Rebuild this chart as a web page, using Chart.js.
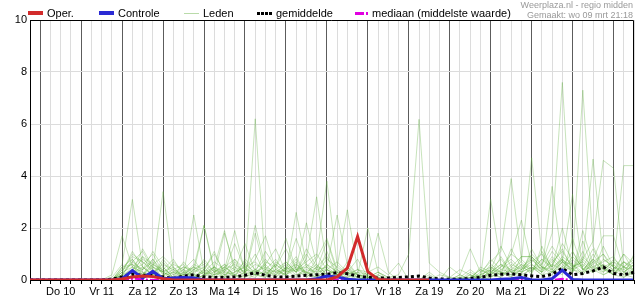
<!DOCTYPE html>
<html lang="nl">
<head>
<meta charset="utf-8">
<title>Neerslag pluim - regio midden</title>
<script src="https://cdn.jsdelivr.net/npm/chart.js@4.4.1/dist/chart.umd.min.js"></script>
<style>
    body { margin: 0; background: #fff; font-family: "Liberation Sans", Arial, sans-serif; }
    #wrap { position: relative; width: 635px; height: 300px; }
    #wrap canvas { position: absolute; left: 0; top: 0; }
    .leg { position: absolute; top: 6px; font-size: 11px; line-height: 14px; color: #000; white-space: nowrap; }
    .leg i { display: inline-block; width: 15px; vertical-align: middle; margin-right: 4px; margin-top: -2px; }
    .credit { position: absolute; right: 2px; top: 0; font-size: 9px; line-height: 10px; color: #999; text-align: right; }
</style>
</head>
<body>
<div id="wrap">
    <canvas id="pluim" width="635" height="300"></canvas>
    <div class="leg" style="left:28px"><i style="height:4px;background:#d22b2b"></i>Oper.</div>
    <div class="leg" style="left:99px"><i style="height:4px;background:#2a2ad4"></i>Controle</div>
    <div class="leg" style="left:184px"><i style="height:1px;background:#b9dba9"></i>Leden</div>
    <div class="leg" style="left:257px"><i style="height:3px;background:repeating-linear-gradient(to right,#000 0 3px,transparent 3px 4px)"></i>gemiddelde</div>
    <div class="leg" style="left:355px"><i style="height:3px;width:13px;background:linear-gradient(to right,#e000e0 0 9px,transparent 9px 11px,#e000e0 11px 13px)"></i>mediaan (middelste waarde)</div>
    <div class="credit">Weerplaza.nl - regio midden<br>Gemaakt: wo 09 mrt 21:18</div>
</div>
<script>
// dagen van de run (start wo 09 18u, elke 6 uur een waarde)
const dagen = ['Wo 09', 'Do 10', 'Vr 11', 'Za 12', 'Zo 13', 'Ma 14', 'Di 15', 'Wo 16',
               'Do 17', 'Vr 18', 'Za 19', 'Zo 20', 'Ma 21', 'Di 22', 'Wo 23', 'Do 24'];
const startUur = 18;
const aantalStappen = 60;
const yTicks = [0, 2, 4, 6, 8, 10];

// tijdstempels (categorieën)
const tijden = [];
for (let i = 0; i < aantalStappen; i++) {
    const h = startUur + i * 6;
    tijden.push(dagen[Math.floor(h / 24)] + ' ' + (h % 24) + 'u');
}
const uurVan = i => (startUur + i * 6) % 24;

const oper = [0,0,0,0,0,0,0,0,0, 0.04,0.12,0.15,0.13, 0.05,0,0,0, 0,0,0,0, 0,0,0,0, 0,0,0,0,
    0,0.12,0.46,1.67, 0.32,0.02,0,0, 0,0,0,null, null,null,null,null, null,null,null,null,
    null,null,null,null, null,null,null,null, null,null,null];

const controle = [0,0,0,0,0,0,0,0,0, 0.05,0.36,0.08,0.33, 0.05,0.08,0.1,0.08, 0,0,0,0, 0,0,0,0,
    0,0,0,0.05, 0.15,0.12,0.03,0, 0,0,0,0, 0,0,0,0, 0,0,0,0, 0,0.03,0.05,0.1,
    0,0,0.05,0.38, 0.02,0,0,0, 0,0,0];

const gemiddelde = [0,0,0,0,0,0,0,0,0.03, 0.12,0.22,0.18,0.2, 0.12,0.06,0.15,0.2, 0.12,0.1,0.1,0.12,
    0.18,0.28,0.18,0.12, 0.12,0.15,0.18,0.2, 0.22,0.28,0.24,0.15, 0.1,0.08,0.08,0.1, 0.12,0.15,0.08,0.04,
    0.03,0.03,0.06,0.1, 0.18,0.22,0.23,0.2, 0.16,0.13,0.22,0.45, 0.2,0.25,0.35,0.5, 0.25,0.2,0.3];

const mediaan = [0,0,0,0,0,0,0,0,0, 0,0.05,0.03,0, 0,0,0,0, 0,0,0,0, 0,0,0,0, 0,0,0,0,
    0,0,0,0, 0,0,0,0, 0,0,0,0, 0,0,0,0, 0,0,0,0, 0,0,0,0.05, 0,0,0,0, 0,0,0];

// ensemble leden
const lid01 = [0,0,0,0,0,0,0,0,0.1, 0.6,3.1,0.5,0.2, 0.1,0,0.3,0.1, 0.4,1.1,0.2,0, 0.2,1.8,0.3,0.1, 0.4,0.9,0.2,0.1, 0.6,0.3,0,0, 0.1,0,0,0, 0,0,0,0, 0,0,0.2,0, 0.3,0.6,0.1,0.4, 0.9,0.3,0.6,1.2, 0.4,0.2,0.8,0.5, 0.2,0.7,0.3];
const lid02 = [0,0,0,0,0,0,0,0,0, 0.2,0.7,1.1,0.4, 3.4,0.4,0.1,0, 0.2,0.1,0.5,0.2, 0,0.2,0.6,1.2, 0.3,2.6,0.6,0.2, 0.1,0.3,0,0, 0,0,0,0, 0,0,0,0, 0,0,0.1,0.4, 0.2,0.9,0.3,0.1, 0.5,0.2,0.3,0.8, 0.3,1.9,0.6,0.2, 0.4,0.1,0.3];
const lid03 = [0,0,0,0,0,0,0,0,0, 0.1,0.4,0.6,1.0, 0.3,0.1,0.4,0.8, 0.2,0.3,0.6,0.1, 0.3,6.2,0.4,0.2, 0.7,0.3,1.0,0.4, 0.2,0.1,0.3,0, 0,0,0,0, 0,0,0,0, 0,0.1,0,0, 0.4,0.2,1.2,0.5, 0.3,0.8,0.4,0.2, 1.6,0.4,0.7,0.4, 0.3,1.0,0.6];
const lid04 = [0,0,0,0,0,0,0,0,0.2, 1.7,0.5,0.2,0.6, 0.3,0.1,0,0.2, 0.1,0.5,0.2,0.3, 0.7,0.2,0.1,0.4, 0.2,0.6,0.3,0.1, 0.4,0.1,0.7,0.2, 0.1,0.3,0.1,0.2, 1.0,6.18,0.65,0.3, 0.1,0,0,0.2, 0.4,0.3,0.1,0.9, 0.9,0.5,0.3,0.7, 0.4,1.1,0.3,0.6, 0.2,0.1,0.4];
const lid05 = [0,0,0,0,0,0,0,0,0, 0.1,0.3,0.5,0.2, 0.1,0,0.2,0.5, 2.1,0.3,0.1,0.2, 0.1,0.4,0.2,0, 0.3,0.5,2.2,0.6, 0.2,0.4,0.1,0, 0.2,0.1,0,0, 0,0,0,0, 0,0,0.3,0.1, 0.2,0.5,0.8,0.4, 1.0,0.6,1.8,7.6, 1.1,0.4,0.8,0.3, 0.6,0.2,0.1];
const lid06 = [0,0,0,0,0,0,0,0,0, 0.3,1.0,0.7,0.4, 0.1,0.3,0.2,0.1, 0.4,0.2,1.8,0.5, 0.1,0.3,0.6,0.2, 0.4,0.1,0.5,0.9, 3.8,0.6,0.2,0.1, 0,0,0,0, 0,0,0,0, 0,0.2,1.2,0.3, 0.5,0.2,0.4,0.7, 0.3,1.1,0.5,1.4, 0.8,7.3,1.3,0.5, 0.2,0.7,0.4];
const lid07 = [0,0,0,0,0,0,0,0,0, 0.5,0.8,0.3,0.1, 0.7,0.2,0.4,0, 0.2,0.5,0.3,0.8, 0.2,0.1,0.4,0.3, 0.6,0.3,0.8,3.2, 0.5,0.2,0.1,0.3, 0.2,1.8,0.3,0, 0,0,0,0, 0,0,0,0.1, 0.6,0.3,1.0,0.7, 4.7,1.0,0.5,0.8, 0.4,0.3,0.6,1.0, 0.5,0.3,0.2];
const lid08 = [0,0,0,0,0,0,0,0,0, 0.2,0.3,0.4,1.1, 0.5,0.1,0.3,0.2, 0,0.2,0.4,1.9, 0.3,0.2,0.7,0.5, 0.1,0.2,0.4,0.3, 0.8,0.5,2.7,0.4, 0.1,0,0,0, 0,0,0.2,0, 0,0.1,0,0.3, 0.7,1.1,3.9,0.8, 0.4,0.6,1.3,0.7, 0.3,0.8,1.5,4.6, 4.3,0.5,0.3];
const lid09 = [0,0,0,0,0,0,0,0,0, 0.4,0.6,0.2,0.8, 0.3,0.5,0.1,0.4, 0.7,0.3,0.5,0.2, 0.4,1.0,0.2,0.6, 0.3,0.8,0.2,0.5, 0.4,0.2,0.3,0.2, 0.1,0.3,0,0, 0,0,0,0, 0,0,0.2,0.1, 3.1,0.6,0.3,0.5, 0.8,0.4,0.7,1.1, 0.5,0.7,4.65,0.8, 0.5,4.4,4.4];
const lid10 = [0,0,0,0,0,0,0,0,0, 0.2,0.4,0.8,0.5, 0.1,0.7,0.3,0.5, 0.3,0.1,0.2,0.4, 1.4,0.3,0.5,0.1, 0.5,0.2,0.3,0.6, 0.2,0.1,0.5,0.2, 2.0,0.3,0.1,0, 0,0,0,0, 0,0.2,0,0, 0.1,0.4,0.7,0.3, 0.5,0.3,3.6,0.7, 3.3,0.4,0.8,1.7, 1.7,0.4,0.7];
const lid11 = [0,0,0,0,0,0,0,0,0, 0.1,0.5,0.3,0.2, 0.4,0.8,0.2,2.5, 0.3,0.5,0.1,0.7, 0.2,0.4,0.8,0.3, 0.2,0.7,0.1,0.4, 0.5,2.5,0.6,0.2, 0.1,0,0,0, 0,0,0,0, 0,0,0,0.1, 0.3,0.1,0.5,0.9, 0.9,0.5,0.2,0.7, 0.4,0.9,0.5,0.3, 0.8,0.5,0.2];
const lid12 = [0,0,0,0,0,0,0,0,0, 0.3,1.1,0.5,0.2, 0.8,0.3,0.1,0.4, 0.2,0.5,1.9,0.3, 0.5,0.2,0.1,0.7, 0.4,0.6,0.2,0.8, 1.6,0.4,0.2,0, 0.1,0,0,0, 0,0,0,0, 0.1,0.4,0.2,0, 0.4,0.8,0.3,0.2, 1.2,0.5,0.4,0.9, 0.6,0.2,0.7,1.0, 0.3,0.5,0.8];
const lid13 = [0,0,0,0,0,0,0,0,0, 0,0.2,0.9,0.6, 0.4,0.2,0.5,0.3, 2.1,0.4,0.2,0.5, 0.3,0.8,1.7,0.4, 0.2,0.5,0.3,0.1, 0.4,0.2,0.1,0.3, 0,0.2,0,0, 0,0,0,0, 0,0,0,0.5, 0.3,0.2,0.6,0.4, 0.7,1.0,0.3,0.5, 1.1,0.4,0.3,0.8, 0.5,0.2,1.0];
const lid14 = [0,0,0,0,0,0,0,0,0, 0.2,0.7,0.4,0.8, 0.2,0.4,0.6,0.1, 0.3,0.2,0.5,0.8, 0.4,0.3,1.1,0.5, 1.2,0.4,0.1,0.5, 0.9,0.2,0.4,0.1, 0,0,0.1,0, 0,0,0.3,0, 0,0,0,0.2, 0.4,1.3,0.5,0.3, 0.8,0.4,1.1,0.6, 0.3,1.5,0.4,0.2, 0.4,0.7,0.5];
const lid15 = [0,0,0,0,0,0,0,0,0, 0.4,0.9,0.7,0.3, 0.5,0.1,0.2,0.6, 0.4,1.0,0.3,0.2, 0.6,0.3,0.2,0.4, 0.7,0.3,1.2,0.5, 0.1,0.5,0.2,0.4, 0.2,0,0,0, 0,0,0,0, 0,0,0.1,0.4, 0.2,0.5,1.0,2.3, 0.6,0.3,0.8,0.4, 0.9,0.5,1.2,0.4, 0.7,0.3,0.6];
const lid16 = [0,0,0,0,0,0,0,0,0, 0.1,0.3,1.2,0.5, 0.3,0.6,0.4,0.2, 0.8,0.3,0.6,0.4, 0.2,2.1,0.5,0.3, 0.4,1.6,0.5,0.2, 0.6,0.3,0.4,0.2, 0,0.1,0,0, 0,0,0,0.2, 0.1,0,0,0, 0.1,0.3,0.2,0.6, 0.4,0.8,0.5,2.0, 0.5,0.7,0.3,1.3, 0.5,0.4,0.2];
const lid17 = [0,0,0,0,0,0,0,0,0, 0.5,0.6,0.4,0.7, 0.2,0.3,0.5,0.4, 0.6,0.2,0.3,1.4, 0.4,0.2,0.3,0.5, 1.6,0.4,0.3,0.2, 1.1,0.2,0.5,0.1, 0.3,0.5,0.2,0.65, 0,0,0,0, 0,0,0,0, 0.2,0.1,0.4,0.3, 0.5,0.2,0.6,0.4, 0.8,0.4,0.5,0.7, 0.9,0.3,0.6];
const lid18 = [0,0,0,0,0,0,0,0,0, 0.2,0.8,0.2,0.5, 0.3,0.1,0.7,0.2, 0.3,0.7,0.4,0.1, 0.8,0.4,0.2,0.6, 0.3,0.4,0.7,1.0, 0.4,0.2,0.3,0.8, 0.1,0.2,0,0, 0,0,0,0, 0,0,0.1,0.2, 0.8,0.4,0.3,0.6, 0.2,1.3,0.4,0.8, 0.5,0.8,0.4,0.6, 0.4,1.0,0.3];
const lid19 = [0,0,0,0,0,0,0,0,0, 0.3,0.5,0.9,0.3, 0.6,0.4,0.2,0.5, 0.2,0.4,0.1,0.3, 0.5,0.7,0.3,0.2, 0.5,0.3,0.6,0.4, 1.5,0.3,0.2,0.4, 0.3,0.1,0,0, 0,0,0,0, 0,0.1,0.4,0.1, 0.5,0.3,0.2,0.4, 0.6,0.3,0.9,0.5, 0.4,0.6,0.3,0.5, 0.7,0.5,0.9];
const lid20 = [0,0,0,0,0,0,0,0,0, 0.1,0.4,0.2,0.6, 0.9,0.5,0.1,0.3, 0.5,0.1,0.4,0.6, 0.3,0.6,0.4,0.8, 0.2,0.4,0.5,0.3, 0.4,0.7,0.3,0.1, 0,0,0,0.1, 0,0,0.1,0, 0.5,0.2,0,0, 0.3,0.6,0.4,0.2, 0.4,0.5,0.3,0.7, 0.6,0.3,1.0,0.4, 0.2,0.5,0.4];

const leden = [lid01, lid02, lid03, lid04, lid05, lid06, lid07, lid08, lid09, lid10,
               lid11, lid12, lid13, lid14, lid15, lid16, lid17, lid18, lid19, lid20];

// lijn-datasets; de eerste wordt bovenop getekend
const lijn = (label, data, kleur, breedte, dash) => ({
    label, data, borderColor: kleur, borderWidth: breedte, borderDash: dash || [],
    pointRadius: 0, tension: 0, fill: false, spanGaps: false
});

const datasets = [
    lijn('Oper.', oper, '#d22b2b', 3),
    lijn('Controle', controle, '#2a2ad4', 3),
    lijn('mediaan (middelste waarde)', mediaan, '#e000e0', 2, [9, 2, 2, 2]),
    lijn('gemiddelde', gemiddelde, '#000000', 3, [3, 3]),
    ...leden.map((d, i) => lijn('lid ' + (i + 1), d, 'rgba(95, 175, 60, 0.35)', 1))
];

// kader boven en rechts
const kader = {
    id: 'kader',
    afterDraw(chart) {
        const { ctx, chartArea: a } = chart;
        ctx.save();
        ctx.strokeStyle = '#000';
        ctx.lineWidth = 1;
        ctx.beginPath();
        ctx.moveTo(a.left, a.top + 0.5);
        ctx.lineTo(a.right - 0.5, a.top + 0.5);
        ctx.lineTo(a.right - 0.5, a.bottom);
        ctx.stroke();
        ctx.restore();
    }
};

Chart.defaults.font.family = '"Liberation Sans", Arial, sans-serif';
Chart.defaults.font.size = 11;
Chart.defaults.color = '#000';

new Chart(document.getElementById('pluim'), {
    type: 'line',
    data: { labels: tijden, datasets: datasets },
    options: {
        responsive: false,
        animation: false,
        layout: { padding: { top: 20, right: 1, left: 0, bottom: 0 } },
        plugins: { legend: { display: false }, tooltip: { enabled: false } },
        scales: {
            x: {
                offset: false,
                afterFit: s => { s.height = 20; },
                grid: {
                    color: c => uurVan(c.index) === 0 ? '#5c5c5c' : '#dcdcdc',
                    tickColor: '#000',
                    tickLength: 4
                },
                border: { color: '#000' },
                ticks: {
                    autoSkip: false,
                    maxRotation: 0,
                    padding: 1,
                    callback: (v, i) => uurVan(i) === 12 && i < aantalStappen - 1 ? dagen[Math.floor((startUur + i * 6) / 24)] : ''
                }
            },
            y: {
                min: yTicks[0],
                max: yTicks[yTicks.length - 1],
                afterFit: s => { s.width = 30; },
                grid: { color: '#dcdcdc', drawTicks: false },
                border: { color: '#000' },
                ticks: { stepSize: 2, padding: 3 }
            }
        }
    },
    plugins: [kader]
});
</script>
</body>
</html>
